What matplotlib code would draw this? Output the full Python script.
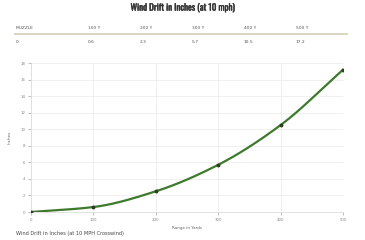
import numpy as np
import matplotlib
matplotlib.use("Agg")
import matplotlib.pyplot as plt
from matplotlib import font_manager
import matplotlib.patheffects as pe

ranges = [0, 100, 200, 300, 400, 500]
drift = [0, 0.6, 2.5, 5.7, 10.5, 17.2]
headers = ["MUZZLE", "100 Y", "200 Y", "300 Y", "400 Y", "500 Y"]
table_vals = ["0", "0.6", "2.3", "5.7", "10.5", "17.2"]
y_ticks = [0, 2, 4, 6, 8, 10, 12, 14, 16, 18]

names = {f.name for f in font_manager.fontManager.ttflist}
title_font = "DejaVu Sans"
for cand in ["Oswald", "Roboto Condensed", "Liberation Sans Narrow", "DejaVu Sans Condensed",
             "Open Sans Condensed", "Noto Sans Condensed"]:
    if cand in names:
        title_font = cand
        break

def pchip(x, y, xs):
    x = np.asarray(x, float); y = np.asarray(y, float)
    h = np.diff(x); d = np.diff(y) / h
    m = np.zeros_like(y)
    for i in range(1, len(y) - 1):
        if d[i-1] * d[i] > 0:
            w1 = 2*h[i] + h[i-1]; w2 = h[i] + 2*h[i-1]
            m[i] = (w1 + w2) / (w1/d[i-1] + w2/d[i])
    m[0] = d[0]; m[-1] = d[-1]
    out = np.empty_like(xs)
    for j, xv in enumerate(xs):
        i = min(np.searchsorted(x, xv, side="right") - 1, len(x) - 2)
        t = (xv - x[i]) / h[i]
        h00 = 2*t**3 - 3*t**2 + 1; h10 = t**3 - 2*t**2 + t
        h01 = -2*t**3 + 3*t**2; h11 = t**3 - t**2
        out[j] = h00*y[i] + h10*h[i]*m[i] + h01*y[i+1] + h11*h[i]*m[i+1]
    return out

fig = plt.figure(figsize=(3.65, 2.4), dpi=100)
fig.patch.set_facecolor("white")

title = fig.text(0.5, 1 - 8/240, "Wind Drift in Inches (at 10 mph)", ha="center", va="center",
                 fontsize=8, fontweight="bold", family=title_font, fontstretch="condensed",
                 color="#333333")
fig.canvas.draw()
w = title.get_window_extent().width
target = 104.0
if w > target * 1.05:
    title.set_fontsize(max(6.3, 8 * target / w))
title.set_path_effects([pe.withStroke(linewidth=0.3, foreground="#333333")])

xs_cols = [16, 88, 140, 192, 244, 296]
for xc, h, v in zip(xs_cols, headers, table_vals):
    fig.text(xc/365, 1 - 28/240, h, ha="left", va="center", fontsize=3.2, color="#555555")
    fig.text(xc/365, 1 - 42/240, v, ha="left", va="center", fontsize=3.2, color="#555555")
fig.add_artist(plt.Line2D([15/365, 347/365], [1 - 34/240, 1 - 34/240],
                          color="#d8d0bc", lw=1.3, transform=fig.transFigure))

ax = fig.add_axes([31/365, 1 - 212/240, (343-31)/365, (212-63)/240])
xs = np.linspace(ranges[0], ranges[-1], 200)
ax.plot(xs, pchip(ranges, drift, xs), color="#3d7a2b", lw=1.6, solid_capstyle="round", zorder=3)
ax.plot(ranges, drift, "o", color="#2b3f22", ms=1.8, zorder=4)
ax.set_xlim(0, 500)
ax.set_ylim(0, 18)
ax.set_xticks(ranges)
ax.set_yticks(y_ticks)
ax.grid(True, color="#eeeeee", lw=0.6)
ax.set_axisbelow(True)
for s in ["top", "right"]:
    ax.spines[s].set_visible(False)
for s in ["left", "bottom"]:
    ax.spines[s].set_color("#dddddd")
    ax.spines[s].set_linewidth(0.6)
ax.tick_params(labelsize=2.8, colors="#888888", length=2, width=0.4, pad=2)
ax.set_xlabel("Range in Yards", fontsize=3, color="#666666", labelpad=3)
ax.set_ylabel("Inches", fontsize=3, color="#666666", labelpad=6)

fig.text(16/365, 1 - 234/240, "Wind Drift in Inches (at 10 MPH Crosswind)", ha="left", va="center",
         fontsize=3.6, color="#444444")

fig.savefig("out.png", dpi=100)
